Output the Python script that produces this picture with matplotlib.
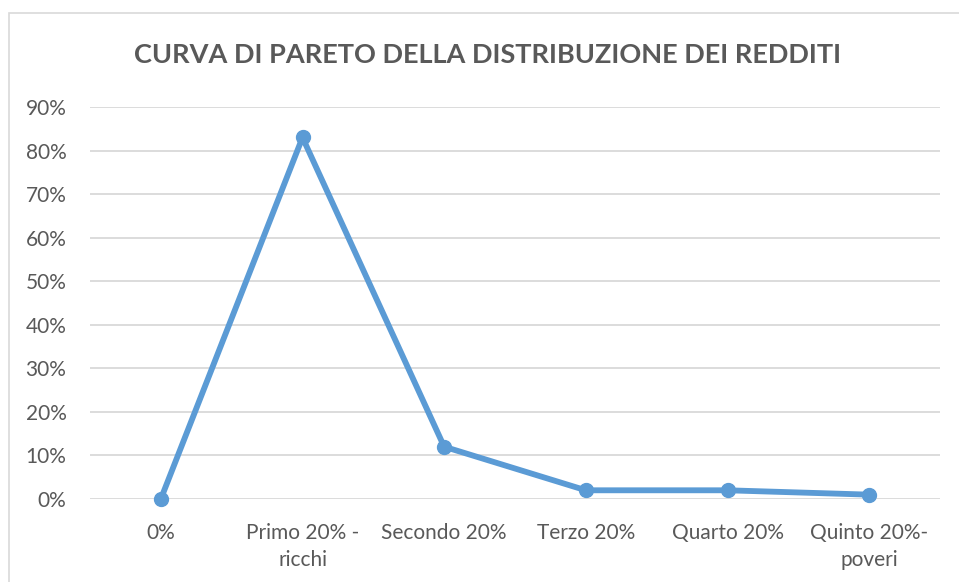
import matplotlib
matplotlib.use("Agg")
import matplotlib.pyplot as plt
from matplotlib.patches import Rectangle
from matplotlib.ticker import FuncFormatter, MultipleLocator

# data
categories = ["0%", "Primo 20% -\nricchi", "Secondo 20%", "Terzo 20%", "Quarto 20%", "Quinto 20%-\npoveri"]
values     = [0.00, 0.83, 0.12, 0.02, 0.02, 0.01]
title      = "CURVA DI PARETO DELLA DISTRIBUZIONE DEI REDDITI"

blue  = "#5B9BD5"
grey  = "#595959"
grid  = "#D9D9D9"

plt.rcParams['font.family'] = ['Lato', 'DejaVu Sans']

fig = plt.figure(figsize=(9.59, 5.82), dpi=100)
ax  = fig.add_axes([90/959, 1 - 499/582, 850/959, (499 - 107)/582])

# chart border (cut off at right and bottom)
fig.patches.append(Rectangle((9/959, -0.1), 1.2, 1 - 13/582 + 0.1,
                             transform=fig.transFigure, fill=False,
                             edgecolor=grid, linewidth=1.2))

x = list(range(len(categories)))
ax.plot(x, values, color=blue, linewidth=4.2, marker='o', markersize=10,
        solid_capstyle='round', zorder=3, clip_on=False)

ax.set_xlim(-0.5, len(categories) - 0.5)
ax.set_ylim(0, 0.9)
ax.yaxis.set_major_locator(MultipleLocator(0.1))
ax.yaxis.set_major_formatter(FuncFormatter(lambda v, p: f"{v*100:.0f}%"))
ax.set_xticks(x)
ax.set_xticklabels(categories, linespacing=1.45)

ax.grid(axis='y', color=grid, linewidth=1.3)
ax.set_axisbelow(True)
for s in ax.spines.values():
    s.set_visible(False)
ax.tick_params(axis='both', length=0, labelsize=15, colors=grey)
ax.tick_params(axis='y', pad=17)
ax.tick_params(axis='x', pad=17)
for lbl in ax.get_xticklabels():
    lbl.set_verticalalignment('top')

fig.text(488/959, 1 - 55/582, title, ha='center', va='center',
         fontsize=19.5, fontweight='bold', color=grey)

plt.savefig("out.png", dpi=100)
